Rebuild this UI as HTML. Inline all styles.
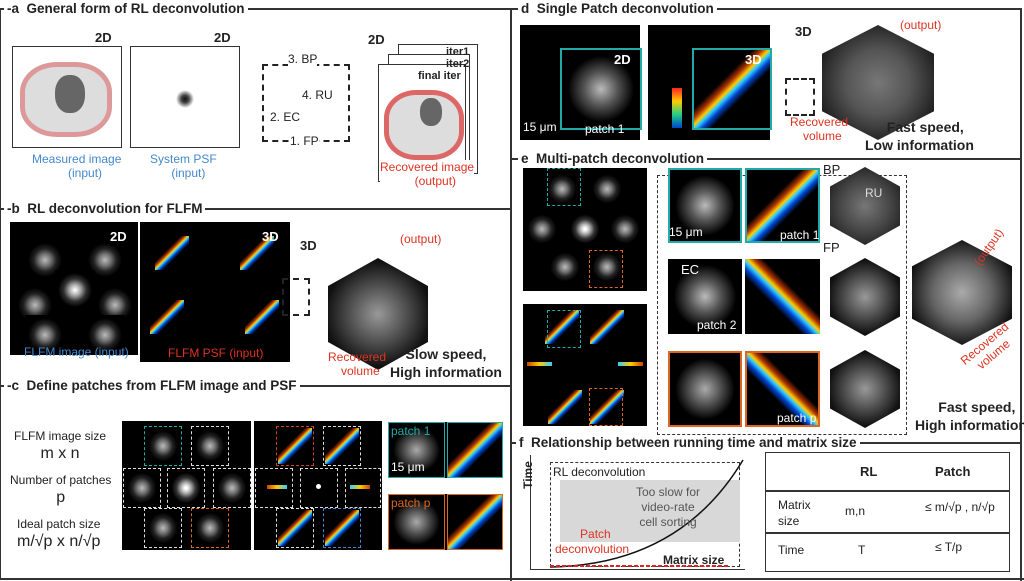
<!DOCTYPE html>
<html><head><meta charset="utf-8"><style>
*{margin:0;padding:0;box-sizing:border-box}
body{width:1024px;height:581px;background:#fff;position:relative;overflow:hidden;font-family:"Liberation Sans",sans-serif;color:#222}
.a{position:absolute}
.blk{position:absolute;background:#000}
.t{position:absolute;font-weight:bold;font-size:13.5px;background:#fff;padding:0 3px;white-space:nowrap}
.ln{position:absolute;background:#333}
.cell{position:absolute;background:radial-gradient(ellipse at center,#bbb 0,#777 20%,#222 40%,#000 60%)}
.psf{position:absolute;background:linear-gradient(135deg,#000 38%,#a30 44%,#fc0 48.5%,#3cf 51.5%,#04c 56%,#000 62%)}
.cube{position:absolute;background:radial-gradient(circle,#999 0,#555 35%,#111 70%);clip-path:polygon(50% 0,100% 25%,100% 75%,50% 100%,0 75%,0 25%)}
.dsh{position:absolute;border:1.5px dashed #ddd}
.s{position:absolute;font-size:12px;white-space:nowrap}
.red{color:#d32}.blue{color:#48c}
</style></head><body>
<div class="ln" style="left:0;top:8px;width:1px;height:570px"></div>
<div class="ln" style="left:510px;top:8px;width:2px;height:573px"></div>
<div class="ln" style="left:1020px;top:8px;width:2px;height:573px"></div>
<div class="ln" style="left:0;top:8px;width:510px;height:2px"></div>
<div class="ln" style="left:0;top:208px;width:510px;height:2px"></div>
<div class="ln" style="left:0;top:385px;width:510px;height:2px"></div>
<div class="ln" style="left:0;top:578px;width:1024px;height:2px"></div>
<div class="ln" style="left:512px;top:8px;width:510px;height:2px"></div>
<div class="ln" style="left:512px;top:158px;width:510px;height:2px"></div>
<div class="ln" style="left:512px;top:442px;width:510px;height:2px"></div>
<div class="t" style="left:4px;top:1px">-a&nbsp; General form of RL deconvolution</div>
<div class="t" style="left:4px;top:201px">-b&nbsp; RL deconvolution for FLFM</div>
<div class="t" style="left:4px;top:378px">-c&nbsp; Define patches from FLFM image and PSF</div>
<div class="t" style="left:518px;top:1px">d&nbsp; Single Patch deconvolution</div>
<div class="t" style="left:518px;top:151px">e&nbsp; Multi-patch deconvolution</div>
<div class="t" style="left:516px;top:435px">f&nbsp; Relationship between running time and matrix size</div>

<!-- panel a -->
<div class="a" style="left:12px;top:46px;width:110px;height:102px;border:1px solid #333"></div>
<div class="a" style="left:20px;top:62px;width:92px;height:75px;background:#ddd;border:5px solid #d99;border-radius:40%"></div>
<div class="a" style="left:55px;top:75px;width:30px;height:38px;background:#666;border-radius:45%"></div>
<div class="a" style="left:130px;top:46px;width:110px;height:102px;border:1px solid #333;background:radial-gradient(circle at 50% 52%,#111 0,#444 5%,#fff 12%)"></div>
<div class="s" style="left:95px;top:30px;font-weight:bold;font-size:13px">2D</div>
<div class="s" style="left:214px;top:30px;font-weight:bold;font-size:13px">2D</div>
<div class="s blue" style="left:32px;top:152px;text-align:center">Measured image<br>&nbsp;&nbsp;&nbsp;&nbsp;&nbsp;(input)</div>
<div class="s blue" style="left:150px;top:152px;text-align:center">System PSF<br>&nbsp;&nbsp;&nbsp;(input)</div>
<div class="a" style="left:262px;top:64px;width:88px;height:78px;border:2.5px dashed #222"></div>
<div class="s" style="left:288px;top:52px;background:#fff">3. BP</div>
<div class="s" style="left:302px;top:88px;background:#fff">4. RU</div>
<div class="s" style="left:270px;top:110px;background:#fff">2. EC</div>
<div class="s" style="left:290px;top:134px;background:#fff">1. FP</div>
<div class="a" style="left:398px;top:44px;width:80px;height:130px;border:1px solid #333"></div>
<div class="a" style="left:388px;top:54px;width:82px;height:125px;border:1px solid #333;background:#fff"></div>
<div class="a" style="left:378px;top:64px;width:88px;height:118px;border:1px solid #333;background:#fff"></div>
<div class="a" style="left:384px;top:90px;width:80px;height:70px;background:#ddd;border:5px solid #d66;border-radius:40%"></div>
<div class="a" style="left:420px;top:98px;width:22px;height:28px;background:#666;border-radius:45%"></div>
<div class="s" style="left:368px;top:32px;font-weight:bold;font-size:13px">2D</div>
<div class="s" style="left:446px;top:46px;font-size:11px;font-weight:bold">iter1</div>
<div class="s" style="left:446px;top:58px;font-size:11px;font-weight:bold">iter2</div>
<div class="s" style="left:418px;top:70px;font-size:11px;font-weight:bold">final iter</div>
<div class="s red" style="left:380px;top:160px;text-align:center;background:#fff">Recovered image<br>&nbsp;&nbsp;&nbsp;&nbsp;&nbsp;(output)</div>

<!-- panel b -->
<div class="blk" style="left:10px;top:222px;width:128px;height:133px"></div>
<div class="cell" style="left:25px;top:240px;width:40px;height:40px"></div>
<div class="cell" style="left:85px;top:240px;width:40px;height:40px"></div>
<div class="cell" style="left:55px;top:270px;width:40px;height:40px;filter:brightness(1.4)"></div>
<div class="cell" style="left:15px;top:285px;width:40px;height:40px"></div>
<div class="cell" style="left:95px;top:285px;width:40px;height:40px"></div>
<div class="cell" style="left:25px;top:315px;width:40px;height:40px"></div>
<div class="cell" style="left:85px;top:315px;width:40px;height:40px"></div>
<div class="s blue" style="left:24px;top:345px">FLFM image (input)</div>
<div class="blk" style="left:140px;top:222px;width:150px;height:140px"></div>
<div class="psf" style="left:155px;top:236px;width:34px;height:34px"></div>
<div class="psf" style="left:240px;top:236px;width:34px;height:34px"></div>
<div class="psf" style="left:150px;top:300px;width:34px;height:34px"></div>
<div class="psf" style="left:245px;top:300px;width:34px;height:34px"></div>
<div class="s red" style="left:168px;top:346px">FLFM PSF (input)</div>
<div class="s" style="left:110px;top:229px;color:#fff;font-weight:bold;font-size:13px">2D</div>
<div class="s" style="left:262px;top:229px;color:#fff;font-weight:bold;font-size:13px">3D</div>
<div class="a" style="left:282px;top:278px;width:28px;height:38px;border:2px dashed #222"></div>
<div class="s" style="left:300px;top:238px;font-weight:bold;font-size:13px">3D</div>
<div class="cube" style="left:328px;top:258px;width:100px;height:112px"></div>
<div class="s red" style="left:400px;top:232px">(output)</div>
<div class="s red" style="left:328px;top:350px;text-align:center">Recovered<br>&nbsp;&nbsp;volume</div>
<div class="s" style="left:390px;top:345px;font-weight:bold;font-size:14px;text-align:center;line-height:18px">Slow speed,<br>High information</div>

<!-- panel c -->
<div class="s" style="left:14px;top:428px;text-align:center;line-height:17px">FLFM image size<br><span style="font-size:16px">m x n</span></div>
<div class="s" style="left:10px;top:472px;text-align:center;line-height:17px">Number of patches<br><span style="font-size:16px">p</span></div>
<div class="s" style="left:17px;top:516px;text-align:center;line-height:17px">Ideal patch size<br><span style="font-size:16px">m/√p x n/√p</span></div>
<div class="blk" style="left:122px;top:421px;width:129px;height:129px"></div>
<div class="blk" style="left:254px;top:421px;width:128px;height:129px"></div>
<div class="blk" style="left:388px;top:422px;width:115px;height:56px"></div>
<div class="blk" style="left:388px;top:494px;width:115px;height:56px"></div>
<div class="dsh" style="left:144px;top:426px;width:38px;height:40px;border-color:#2aa"></div>
<div class="cell" style="left:146px;top:428px;width:34px;height:36px"></div>
<div class="dsh" style="left:191px;top:426px;width:38px;height:40px"></div>
<div class="cell" style="left:193px;top:428px;width:34px;height:36px"></div>
<div class="dsh" style="left:123px;top:468px;width:38px;height:40px"></div>
<div class="cell" style="left:125px;top:470px;width:34px;height:36px"></div>
<div class="dsh" style="left:167px;top:468px;width:38px;height:40px"></div>
<div class="cell" style="left:169px;top:470px;width:34px;height:36px;filter:brightness(1.5)"></div>
<div class="dsh" style="left:213px;top:468px;width:38px;height:40px"></div>
<div class="cell" style="left:215px;top:470px;width:34px;height:36px"></div>
<div class="dsh" style="left:144px;top:508px;width:38px;height:40px"></div>
<div class="cell" style="left:146px;top:510px;width:34px;height:36px"></div>
<div class="dsh" style="left:191px;top:508px;width:38px;height:40px;border-color:#d62"></div>
<div class="cell" style="left:193px;top:510px;width:34px;height:36px"></div>
<div class="dsh" style="left:276px;top:426px;width:38px;height:40px;border-color:#c42"></div>
<div class="psf" style="left:278px;top:428px;width:34px;height:36px"></div>
<div class="dsh" style="left:323px;top:426px;width:38px;height:40px"></div>
<div class="psf" style="left:325px;top:428px;width:34px;height:36px"></div>
<div class="dsh" style="left:255px;top:468px;width:38px;height:40px"></div>
<div class="a" style="left:267px;top:485px;width:20px;height:4px;background:linear-gradient(90deg,#c40,#fc0,#3cf)"></div>
<div class="dsh" style="left:300px;top:468px;width:38px;height:40px"></div>
<div class="a" style="left:316px;top:484px;width:5px;height:5px;background:#fff;border-radius:50%"></div>
<div class="dsh" style="left:345px;top:468px;width:36px;height:40px"></div>
<div class="a" style="left:350px;top:485px;width:20px;height:4px;background:linear-gradient(90deg,#3cf,#fc0,#c40)"></div>
<div class="dsh" style="left:276px;top:508px;width:38px;height:40px"></div>
<div class="psf" style="left:278px;top:510px;width:34px;height:36px"></div>
<div class="dsh" style="left:323px;top:508px;width:38px;height:40px;border-color:#48c"></div>
<div class="psf" style="left:325px;top:510px;width:34px;height:36px"></div>
<div class="a" style="left:388px;top:422px;width:57px;height:56px;border:1px solid #2aa;background:radial-gradient(ellipse,#aaa 0,#444 35%,#000 60%)"></div>
<div class="psf" style="left:447px;top:422px;width:56px;height:56px;border:1px solid #2aa"></div>
<div class="a" style="left:388px;top:494px;width:57px;height:56px;border:1px solid #d62;background:radial-gradient(ellipse,#aaa 0,#444 35%,#000 60%)"></div>
<div class="psf" style="left:447px;top:494px;width:56px;height:56px;border:1px solid #d62"></div>
<div class="s" style="left:391px;top:424px;color:#2aa">patch 1</div>
<div class="s" style="left:391px;top:496px;color:#d62">patch p</div>
<div class="s" style="left:391px;top:460px;color:#fff">15 μm</div>

<!-- panel d -->
<div class="blk" style="left:520px;top:25px;width:120px;height:115px"></div>
<div class="a" style="left:560px;top:48px;width:82px;height:82px;background:radial-gradient(ellipse,#bbb 0,#555 30%,#000 60%);border:2px solid #2aa"></div>
<div class="blk" style="left:648px;top:25px;width:122px;height:115px"></div>
<div class="psf" style="left:692px;top:48px;width:80px;height:82px;border:2px solid #2aa"></div>
<div class="a" style="left:672px;top:88px;width:10px;height:40px;background:linear-gradient(#f22,#fc0,#2c8,#04c)"></div>
<div class="s" style="left:614px;top:52px;color:#fff;font-weight:bold;font-size:13px">2D</div>
<div class="s" style="left:745px;top:52px;color:#fff;font-weight:bold;font-size:13px">3D</div>
<div class="s" style="left:523px;top:120px;color:#fff">15 μm</div>
<div class="s" style="left:585px;top:122px;color:#fff">patch 1</div>
<div class="a" style="left:785px;top:78px;width:30px;height:38px;border:2px dashed #222"></div>
<div class="s" style="left:795px;top:24px;font-weight:bold;font-size:13px">3D</div>
<div class="cube" style="left:822px;top:25px;width:112px;height:115px;background:radial-gradient(circle,#777 0,#555 40%,#222 75%)"></div>
<div class="s red" style="left:900px;top:18px">(output)</div>
<div class="s red" style="left:790px;top:115px;text-align:center">Recovered<br>&nbsp;&nbsp;volume</div>
<div class="s" style="left:865px;top:118px;font-weight:bold;font-size:14px;text-align:center;line-height:18px">&nbsp;&nbsp;&nbsp;Fast speed,<br>Low information</div>

<!-- panel e -->
<div class="blk" style="left:523px;top:168px;width:124px;height:123px"></div>
<div class="blk" style="left:523px;top:304px;width:124px;height:122px"></div>
<div class="cell" style="left:545px;top:172px;width:34px;height:34px"></div>
<div class="cell" style="left:590px;top:172px;width:34px;height:34px"></div>
<div class="cell" style="left:525px;top:212px;width:34px;height:34px"></div>
<div class="cell" style="left:568px;top:212px;width:34px;height:34px;filter:brightness(1.5)"></div>
<div class="cell" style="left:608px;top:212px;width:34px;height:34px"></div>
<div class="cell" style="left:548px;top:250px;width:34px;height:34px"></div>
<div class="cell" style="left:590px;top:250px;width:34px;height:34px"></div>
<div class="psf" style="left:545px;top:310px;width:34px;height:34px"></div>
<div class="psf" style="left:590px;top:310px;width:34px;height:34px"></div>
<div class="a" style="left:527px;top:362px;width:25px;height:4px;background:linear-gradient(90deg,#c40,#fc0,#3cf)"></div>
<div class="a" style="left:618px;top:362px;width:25px;height:4px;background:linear-gradient(90deg,#3cf,#fc0,#c40)"></div>
<div class="psf" style="left:548px;top:390px;width:34px;height:34px"></div>
<div class="psf" style="left:590px;top:390px;width:34px;height:34px"></div>
<div class="dsh" style="left:547px;top:168px;width:34px;height:38px;border-color:#2aa"></div>
<div class="dsh" style="left:589px;top:250px;width:34px;height:38px;border-color:#d62"></div>
<div class="dsh" style="left:547px;top:310px;width:34px;height:38px;border-color:#2aa"></div>
<div class="dsh" style="left:589px;top:388px;width:34px;height:38px;border-color:#d62"></div>
<div class="a" style="left:657px;top:175px;width:250px;height:260px;border:1.5px dashed #333"></div>
<div class="a" style="left:668px;top:168px;width:74px;height:75px;background:radial-gradient(ellipse,#bbb 0,#555 30%,#000 60%);border:2px solid #2aa"></div>
<div class="psf" style="left:745px;top:168px;width:75px;height:75px;border:2px solid #2aa"></div>
<div class="a" style="left:668px;top:259px;width:74px;height:75px;background:radial-gradient(ellipse,#bbb 0,#555 30%,#000 60%)"></div>
<div class="psf" style="left:745px;top:259px;width:75px;height:75px;transform:scaleX(-1)"></div>
<div class="a" style="left:668px;top:351px;width:74px;height:76px;background:radial-gradient(ellipse,#aaa 0,#555 30%,#000 60%);border:2px solid #d62"></div>
<div class="psf" style="left:745px;top:351px;width:75px;height:76px;border:2px solid #d62;transform:scaleX(-1)"></div>
<div class="s" style="left:669px;top:225px;color:#fff">15 μm</div>
<div class="s" style="left:780px;top:228px;color:#fff">patch 1</div>
<div class="s" style="left:697px;top:318px;color:#fff">patch 2</div>
<div class="s" style="left:777px;top:411px;color:#fff">patch p</div>
<div class="s" style="left:681px;top:262px;color:#fff;font-size:13px">EC</div>
<div class="s" style="left:823px;top:162px;font-size:13px">BP</div>
<div class="s" style="left:823px;top:240px;font-size:13px">FP</div>
<div class="cube" style="left:830px;top:167px;width:70px;height:78px;background:radial-gradient(circle,#777 0,#444 50%,#222 80%)"></div>
<div class="cube" style="left:830px;top:258px;width:70px;height:78px"></div>
<div class="cube" style="left:830px;top:350px;width:70px;height:78px"></div>
<div class="s" style="left:865px;top:186px;color:#ddd;font-size:12px">RU</div>
<div class="cube" style="left:912px;top:240px;width:100px;height:105px;background:radial-gradient(circle,#aaa 0,#666 40%,#111 75%)"></div>
<div class="s red" style="left:968px;top:240px;transform:rotate(-55deg)">(output)</div>
<div class="s red" style="left:960px;top:335px;text-align:center;transform:rotate(-40deg)">Recovered<br>volume</div>
<div class="s" style="left:915px;top:398px;font-weight:bold;font-size:14px;text-align:center;line-height:18px">&nbsp;&nbsp;&nbsp;Fast speed,<br>High information</div>

<!-- panel f -->
<div class="a" style="left:530px;top:455px;width:215px;height:115px;border-left:1.5px solid #333;border-bottom:1.5px solid #333"></div>
<div class="a" style="left:550px;top:462px;width:190px;height:105px;border:1.5px dashed #333"></div>
<div class="a" style="left:560px;top:480px;width:180px;height:62px;background:#d8d8d8"></div>
<svg class="a" style="left:530px;top:455px" width="216" height="115"><path d="M20 112 Q150 110 213 5" fill="none" stroke="#111" stroke-width="1.5"/><line x1="20" y1="111" x2="200" y2="111" stroke="#d22" stroke-width="2" stroke-dasharray="4 2"/></svg>
<div class="s" style="left:514px;top:468px;transform:rotate(-90deg);font-weight:bold">Time</div>
<div class="s" style="left:553px;top:465px">RL deconvolution</div>
<div class="s" style="left:636px;top:485px;color:#555;text-align:center;line-height:15px">Too slow for<br>video-rate<br>cell sorting</div>
<div class="s red" style="left:555px;top:527px;text-align:center;line-height:15px">&nbsp;&nbsp;Patch<br>deconvolution</div>
<div class="s" style="left:663px;top:553px;font-weight:bold">Matrix size</div>
<div class="a" style="left:765px;top:452px;width:245px;height:120px;border:1.5px solid #333"></div>
<div class="a" style="left:765px;top:490px;width:245px;height:1.5px;background:#333"></div>
<div class="a" style="left:765px;top:532px;width:245px;height:1.5px;background:#333"></div>
<div class="s" style="left:860px;top:464px;font-weight:bold;font-size:13px">RL</div>
<div class="s" style="left:935px;top:464px;font-weight:bold;font-size:13px">Patch</div>
<div class="s" style="left:778px;top:497px;line-height:16px">Matrix<br>size</div>
<div class="s" style="left:845px;top:504px">m,n</div>
<div class="s" style="left:925px;top:500px">≤ m/√p , n/√p</div>
<div class="s" style="left:778px;top:543px">Time</div>
<div class="s" style="left:858px;top:543px">T</div>
<div class="s" style="left:935px;top:540px">≤ T/p</div>
</body></html>
